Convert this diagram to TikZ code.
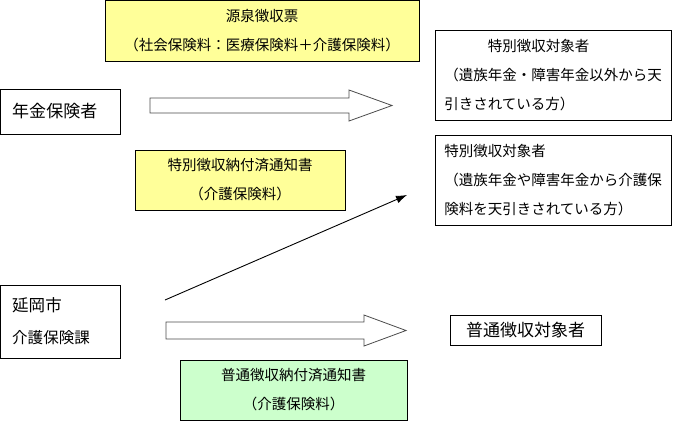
\documentclass[tikz,border=0pt]{standalone}
\usepackage{fontspec}
\setmainfont{Noto Sans CJK JP}
\usepackage{tikz}
\usepackage{xcolor}
\usetikzlibrary{positioning,arrows.meta}
\definecolor{slipyellow}{HTML}{FFFF99}
\definecolor{slipgreen}{HTML}{CCFFCC}
\begin{document}
\begin{tikzpicture}[x=1pt,y=-1pt,every node/.style={font=\fontsize{14.5}{29}\selectfont}]
    \tikzstyle{box}=[draw,line width=0.9pt,inner sep=0pt,align=center];
    \tikzstyle{bigarrow}=[draw=black!70,line width=0.8pt,fill=white];
    \useasboundingbox (0,0) rectangle (676,421);

    % left: senders
    \node[box,minimum width=119.5pt,minimum height=45pt,text width=96pt,align=left,
          font=\fontsize{17}{20}\selectfont] (nenkin) at (60.25,111.5) {年金保険者};
    \node[box,minimum width=119.5pt,minimum height=73pt,text width=96pt,align=left,
          font=\fontsize{15.5}{32}\selectfont] (nobeoka) at (60.25,321.5)
          {{\fontsize{16.5}{20}\selectfont 延岡市}\\介護保険課};

    % slips
    \node[box,fill=slipyellow,minimum width=314pt,minimum height=61pt] (gensen) at (262,30.5)
          {源泉徴収票\\（社会保険料：医療保険料＋介護保険料）};
    \node[box,fill=slipyellow,minimum width=210pt,minimum height=60pt] (tokunofu) at (240,180)
          {特別徴収納付済通知書\\（介護保険料）};
    \node[box,fill=slipgreen,minimum width=227pt,minimum height=60pt] (futsunofu) at (293.5,390)
          {普通徴収納付済通知書\\（介護保険料）};

    % right: receivers
    \node[box,minimum width=236pt,minimum height=90pt,align=left] (toku1) at (553,75)
          {\hspace*{3em}特別徴収対象者\\（遺族年金・障害年金以外から天\\引きされている方）};
    \node[box,minimum width=236pt,minimum height=90pt,align=left] (toku2) at (553,180)
          {特別徴収対象者\\（遺族年金や障害年金から介護保\\険料を天引きされている方）};
    \node[box,minimum width=151pt,minimum height=30pt,font=\fontsize{17}{20}\selectfont]
          (futsu) at (525.5,330) {普通徴収対象者};

    % block arrows
    \coordinate (a1) at (150,105.5);
    \coordinate (a2) at (166,330.5);
    \draw[bigarrow] (a1) ++(0,-7.5) -- ++(199,0) -- ++(0,-8) -- ++(43,15.5)
          -- ++(-43,15.5) -- ++(0,-8) -- ++(-199,0) -- cycle;
    \draw[bigarrow] (a2) ++(0,-8.5) -- ++(198,0) -- ++(0,-7) -- ++(42,15.5)
          -- ++(-42,15.5) -- ++(0,-7) -- ++(-198,0) -- cycle;

    % thin arrow up to the second receiver
    \coordinate (ls) at (165,300);
    \coordinate (le) at (407,195);
    \draw[line width=0.9pt,-{Latex[length=11pt,width=8pt]}] (ls) -- (le);
\end{tikzpicture}
\end{document}
